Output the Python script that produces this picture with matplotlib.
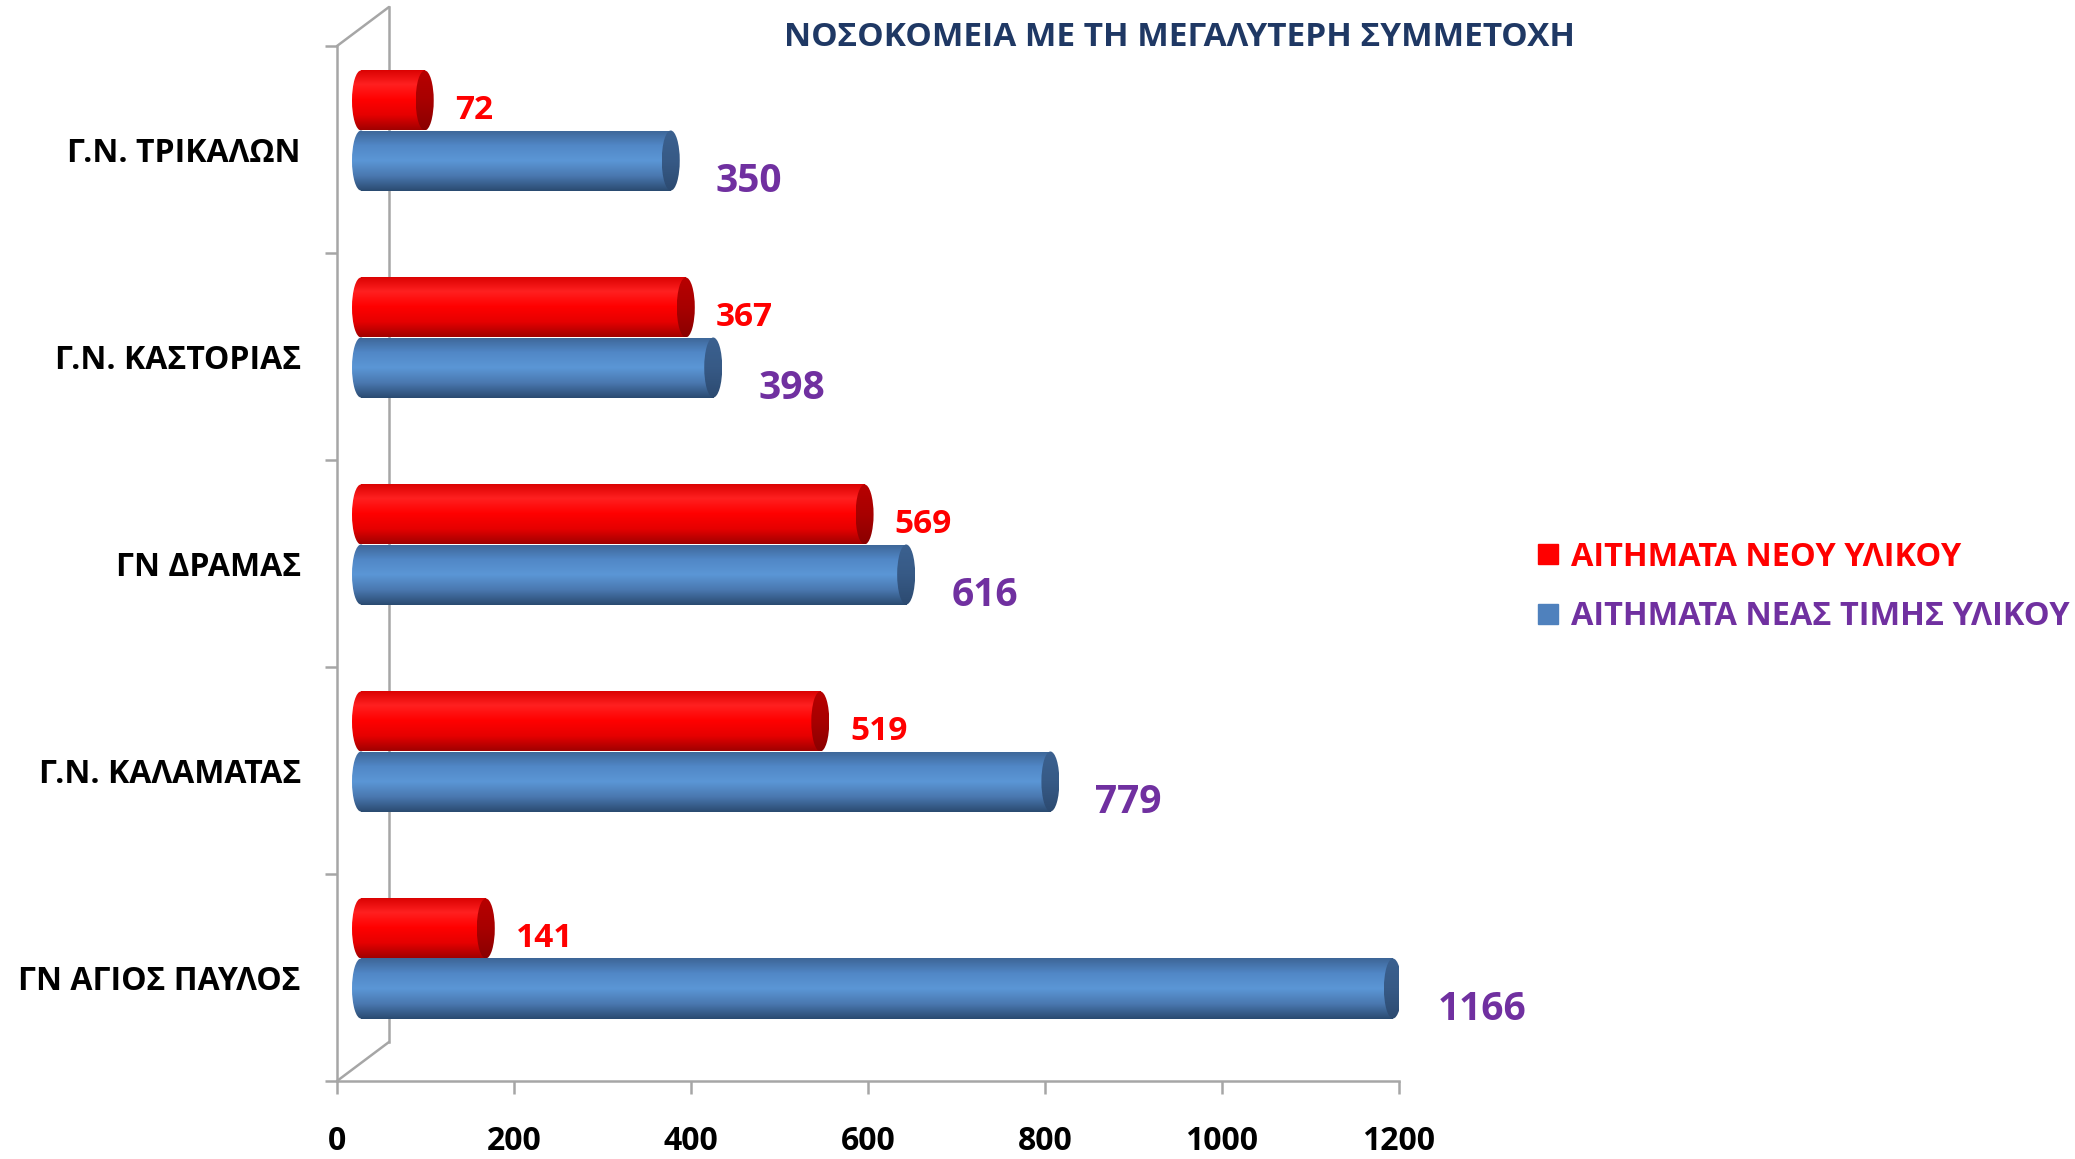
import numpy as np
import matplotlib
matplotlib.use('Agg')
import matplotlib.pyplot as plt
from matplotlib import transforms
from matplotlib.colors import LinearSegmentedColormap
from matplotlib.patches import Ellipse, ConnectionPatch
from matplotlib.lines import Line2D

plt.rcParams['font.family'] = ['Open Sans', 'DejaVu Sans']
plt.rcParams['font.weight'] = 'bold'

hospitals = ['Γ.Ν. ΤΡΙΚΑΛΩΝ', 'Γ.Ν. ΚΑΣΤΟΡΙΑΣ', 'ΓΝ ΔΡΑΜΑΣ', 'Γ.Ν. ΚΑΛΑΜΑΤΑΣ', 'ΓΝ ΑΓΙΟΣ ΠΑΥΛΟΣ']
new_item = [72, 367, 569, 519, 141]
new_price = [350, 398, 616, 779, 1166]
series_names = ['ΑΙΤΗΜΑΤΑ ΝΕΟΥ ΥΛΙΚΟΥ', 'ΑΙΤΗΜΑΤΑ ΝΕΑΣ ΤΙΜΗΣ ΥΛΙΚΟΥ']
xticks = [0, 200, 400, 600, 800, 1000, 1200]
title = 'ΝΟΣΟΚΟΜΕΙΑ ΜΕ ΤΗ ΜΕΓΑΛΥΤΕΡΗ ΣΥΜΜΕΤΟΧΗ'

W, H = 2075, 1159
fig = plt.figure(figsize=(W / 100, H / 100), dpi=100)
ax = fig.add_axes([337 / W, 1 - 1081 / H, (1399 - 337) / W, (1081 - 46) / H])
ax.set_xlim(0, 1200)
ax.set_ylim(len(hospitals) - 0.5, -0.5)

gray = '#a6a6a6'
# depth offsets (pixels): bars sit part way back, wall at the back
shift = ax.transData + transforms.ScaledTranslation(24 / 100, 19 / 100, fig.dpi_scale_trans)
back = ax.transData + transforms.ScaledTranslation(52 / 100, 39 / 100, fig.dpi_scale_trans)

# back wall
ax.plot([0, 0], [-0.5, len(hospitals) - 0.5], color=gray, lw=1.8, transform=back, clip_on=False)
for yy in (-0.5, len(hospitals) - 0.5):
    cp = ConnectionPatch(xyA=(0, yy), coordsA=ax.transData, xyB=(0, yy), coordsB=back,
                         color=gray, lw=1.8)
    fig.add_artist(cp)

red_cmap = LinearSegmentedColormap.from_list('r', ['#d80000', '#ff2020', '#ff0000', '#e60000', '#a00000'])
red_cap = LinearSegmentedColormap.from_list('rc', ['#b80000', '#a80000', '#8a0000'])
blue_cmap = LinearSegmentedColormap.from_list('b', ['#3d6596', '#5187c6', '#5b96d6', '#4a78b0', '#2a4a70'])
blue_cap = LinearSegmentedColormap.from_list('bc', ['#3b6190', '#375a86', '#2c4a70'])

grad = np.linspace(0, 1, 256).reshape(-1, 1)
cap = 9 / (ax.bbox.width / 1200)
h = 0.29


def cylinder(y, value, cmap, capmap):
    ext_y = (y + h / 2, y - h / 2)
    left = Ellipse((0, y), 2 * cap, h, transform=shift, fc='none', ec='none')
    ax.add_patch(left)
    im = ax.imshow(grad, cmap=cmap, aspect='auto', extent=(-cap, cap) + ext_y,
                   transform=shift, interpolation='bilinear', zorder=2)
    im.set_clip_path(left)
    bar = ax.barh(y, value, height=h, left=0, color='none', transform=shift, zorder=2)[0]
    im = ax.imshow(grad, cmap=cmap, aspect='auto', extent=(0, value) + ext_y,
                   transform=shift, interpolation='bilinear', zorder=2.1)
    im.set_clip_path(bar)
    end = Ellipse((value, y), 2 * cap, h, transform=shift, fc='none', ec='none')
    ax.add_patch(end)
    im = ax.imshow(grad, cmap=capmap, aspect='auto', extent=(value - cap, value + cap) + ext_y,
                   transform=shift, interpolation='bilinear', zorder=2.2)
    im.set_clip_path(end)


for i in range(len(hospitals)):
    yr = i - h / 2
    yb = i + h / 2
    cylinder(yr, new_item[i], red_cmap, red_cap)
    cylinder(yb, new_price[i], blue_cmap, blue_cap)
    ax.annotate(str(new_item[i]), xy=(new_item[i], yr), xycoords=shift,
                xytext=(30, -10), textcoords='offset pixels', ha='left', va='center',
                color='#ff0000', fontsize=24, fontweight='bold')
    ax.annotate(str(new_price[i]), xy=(new_price[i], yb), xycoords=shift,
                xytext=(45, -21), textcoords='offset pixels', ha='left', va='center',
                color='#7030a0', fontsize=28, fontweight='bold')

ax.set_xlim(0, 1200)
ax.set_ylim(len(hospitals) - 0.5, -0.5)

for s in ('top', 'right'):
    ax.spines[s].set_visible(False)
for s in ('left', 'bottom'):
    ax.spines[s].set_color(gray)
    ax.spines[s].set_linewidth(1.8)

ax.set_xticks(xticks)
ax.set_xticklabels([str(t) for t in xticks], fontsize=23, fontweight='bold')
ax.tick_params(axis='x', length=9.5, width=1.8, color=gray, pad=22)
ax.set_yticks(range(len(hospitals)))
ax.set_yticklabels(hospitals, fontsize=23, fontweight='bold')
ax.set_yticks(np.arange(-0.5, len(hospitals)), minor=True)
ax.tick_params(axis='y', which='major', length=0, pad=26)
ax.tick_params(axis='y', which='minor', length=8.5, width=1.8, color=gray)

fig.text(1179 / W, 1 - 38 / H, title, ha='center', va='center', fontsize=24,
         fontweight='bold', color='#1f3864')

handles = [Line2D([], [], marker='s', ls='', ms=14, color='#ff0000'),
           Line2D([], [], marker='s', ls='', ms=14, color='#4f81bd')]
leg = fig.legend(handles, series_names, loc='center left', bbox_to_anchor=(1537 / W, 1 - 587 / H),
                 frameon=False, fontsize=23.4, handlelength=0.65, handletextpad=0.4,
                 labelspacing=0.82, borderpad=0, borderaxespad=0)
for t, c in zip(leg.get_texts(), ['#ff0000', '#7030a0']):
    t.set_color(c)

fig.savefig('out.png', dpi=100)
